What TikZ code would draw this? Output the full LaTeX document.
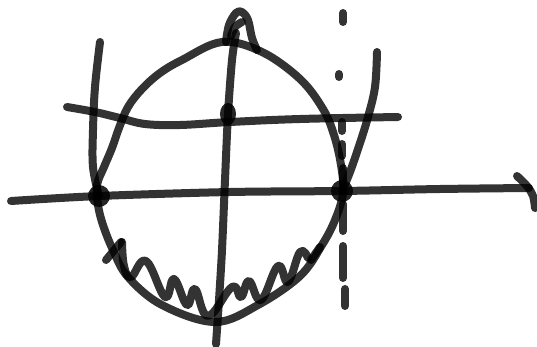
\documentclass[tikz,border=0pt]{standalone}
\begin{document}
\begin{tikzpicture}[x=1pt,y=-1pt,
  pen/.style={draw=black,draw opacity=0.8,line width=8pt,line cap=round,line join=round},
  dotmark/.style={fill=black,fill opacity=0.85}]
\useasboundingbox (0,0) rectangle (537,347);
% named points
\coordinate (dL) at (99,196);
\coordinate (dM) at (228,114);
\coordinate (dR) at (342,191);
% ellipse (hand drawn)
\draw[pen] plot[smooth cycle,tension=0.6] coordinates {
 (222,42) (262,52) (300,79) (323,109) (334,135) (341,165) (343,193) (335,220)
 (322,245) (300,276) (258,305) (215,322) (162,305) (128,277) (113,250)
 (103,225) (98,205) (97,185) (104,167) (112,148) (119,128) (128,107)
 (142,89) (160,73) (182,60)};
% parabola branches
\draw[pen] plot[smooth,tension=0.6] coordinates {(100,42) (95,87) (93,130) (93,167) (dL)};
\draw[pen] plot[smooth,tension=0.6] coordinates {(377,52) (375,87) (368,117) (360,143) (350,172) (dR)};
% horizontal axis with hand arrow
\draw[pen] plot[smooth,tension=0.5] coordinates {(11,201) (dL) (230,192) (dR) (440,189) (529,188)};
\draw[pen] plot[smooth,tension=0.6] coordinates {(517,176) (527,186) (533,196) (535,208)};
% upper horizontal line
\draw[pen] plot[smooth,tension=0.6] coordinates {(67,107) (95,112) (120,118) (145,124) (180,125) (230,122) (300,119) (398,117)};
% vertical line with loop at top
\draw[pen] plot[smooth,tension=0.5] coordinates {(216,344) (219,300) (222,250) (225,180) (dM) (232,60) (236,33)};
\draw[pen] plot[smooth,tension=0.6] coordinates {(226,42) (229,25) (236,13) (242,12) (248,20) (252,38) (257,50)};
\draw[pen] plot[smooth,tension=0.6] coordinates {(242,22) (235,27) (231,36)};
% dashed vertical line
\draw[pen] (343,13) -- (343,22);
\draw[pen] (339,74) -- (339,77);
\draw[pen] (342,122) -- (342,131);
\draw[pen] (342,144) -- (342,156);
\draw[pen] (343,168) -- (343,185);
\draw[pen] (343,204) -- (343,231);
\draw[pen] (343,246) -- (343,278);
\draw[pen] (345,289) -- (345,306);
% dots
\fill[dotmark] (dL) circle[radius=11];
\fill[dotmark] (dM) ellipse[x radius=8,y radius=11];
\fill[dotmark] (dR) circle[radius=11];
% wavy line
\draw[pen] (106,260) -- (121,242);
\draw[pen] plot[smooth,tension=0.7] coordinates {
 (122,242) (124,266) (131,277) (146,261) (165,297) (174,279)
 (187,305) (195,289) (208,316) (232,287)
 (241,297) (249,281) (261,300) (278,266) (288,282) (300,252) (308,258)};
\draw[pen] (311,260) -- (320,247);
\end{tikzpicture}
\end{document}
